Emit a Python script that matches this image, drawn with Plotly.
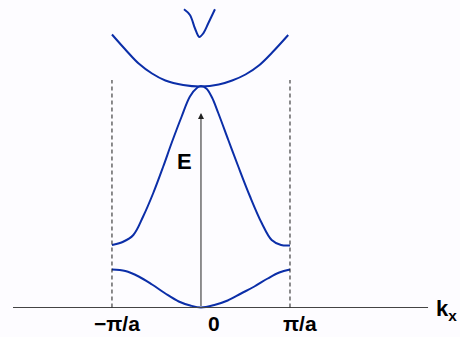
import plotly.graph_objects as go

# Wavevector k_x in units of pi/a, energy E in arbitrary units (0 at the k axis)
band1_k = [-1.0, -0.85, -0.7, -0.55, -0.4, -0.25, -0.12, 0.0, 0.15, 0.3, 0.45, 0.6, 0.75, 0.88, 1.0]
band1_E = [0.38, 0.365, 0.31, 0.23, 0.14, 0.06, 0.02, 0.0, 0.025, 0.07, 0.14, 0.21, 0.29, 0.35, 0.38]

band2_k = [-1.0, -0.88, -0.76, -0.65, -0.536, -0.424, -0.33, -0.217, -0.124, -0.04, 0.0,
           0.06, 0.124, 0.194, 0.307, 0.419, 0.551, 0.682, 0.794, 0.9, 1.0]
band2_E = [0.625, 0.655, 0.725, 0.91, 1.145, 1.41, 1.645, 1.91, 2.11, 2.2, 2.215,
           2.19, 2.1, 1.945, 1.675, 1.41, 1.11, 0.845, 0.675, 0.625, 0.62]

band3_k = [-1.0, -0.85, -0.7, -0.55, -0.4, -0.2, 0.0, 0.2, 0.35, 0.5, 0.65, 0.8, 0.98]
band3_E = [2.73, 2.58, 2.44, 2.34, 2.27, 2.225, 2.21, 2.23, 2.27, 2.33, 2.42, 2.55, 2.725]

band4_k = [-0.191, -0.124, -0.067, -0.019, 0.026, 0.082, 0.157]
band4_E = [2.982, 2.925, 2.79, 2.705, 2.742, 2.842, 2.982]

zone_edges = [-1.0, 1.0]
zone_top = 2.275
arrow_top = 1.945
tick_vals = [-1.0, 0.0, 1.0]
tick_text = ["\u2212\u03c0/a", "0", "\u03c0/a"]

BLUE = "#0b2ea8"
FONT = "Liberation Sans, Arial, sans-serif"

fig = go.Figure()
for ks, es in [(band1_k, band1_E), (band2_k, band2_E), (band3_k, band3_E), (band4_k, band4_E)]:
    fig.add_trace(go.Scatter(x=ks, y=es, mode="lines",
                             line=dict(color=BLUE, width=2, shape="spline", smoothing=1.0),
                             hoverinfo="skip", showlegend=False))

# k_x axis line
fig.add_shape(type="line", x0=-2.112, x1=2.551, y0=0, y1=0,
              line=dict(color="#444444", width=1))
# Brillouin zone boundaries
for kb in zone_edges:
    fig.add_shape(type="line", x0=kb, x1=kb, y0=0, y1=zone_top,
                  line=dict(color="#1a1a1a", width=1, dash="4px,3px"))

# Energy arrow
fig.add_annotation(x=0, y=arrow_top, ax=0, ay=0, xref="x", yref="y", axref="x", ayref="y",
                   text="", showarrow=True, arrowhead=2, arrowsize=1.2, arrowwidth=1,
                   arrowcolor="#222222", standoff=0, startstandoff=0)
fig.add_annotation(x=-0.18, y=1.46, text="<b>E</b>", showarrow=False,
                   font=dict(family=FONT, size=22, color="black"))

# Tick labels under the axis
shifts = [5, 13, 10]
for kv, lab, dx in zip(tick_vals, tick_text, shifts):
    fig.add_annotation(x=kv, y=-0.155, text=f"<b>{lab}</b>", showarrow=False, xshift=dx,
                       font=dict(family=FONT, size=21, color="black"))

fig.add_annotation(x=2.90, y=0.0, text="<b>k<sub>x</sub></b>", showarrow=False,
                   xanchor="right", yanchor="middle", yshift=-2,
                   font=dict(family=FONT, size=22, color="black"))

fig.add_annotation(x=0.888, y=-0.26, text="Physics 460 F 2006 Lect 13", showarrow=False,
                   xanchor="left", yanchor="top",
                   font=dict(family=FONT, size=13, color="#3355ee"))

fig.update_xaxes(range=[-2.258, 2.910], visible=False)
fig.update_yaxes(range=[-0.295, 3.075], visible=False)
fig.update_layout(width=460, height=337, margin=dict(l=0, r=0, t=0, b=0),
                  paper_bgcolor="#fdfcff", plot_bgcolor="#fdfcff")

fig.write_html("out.html")
